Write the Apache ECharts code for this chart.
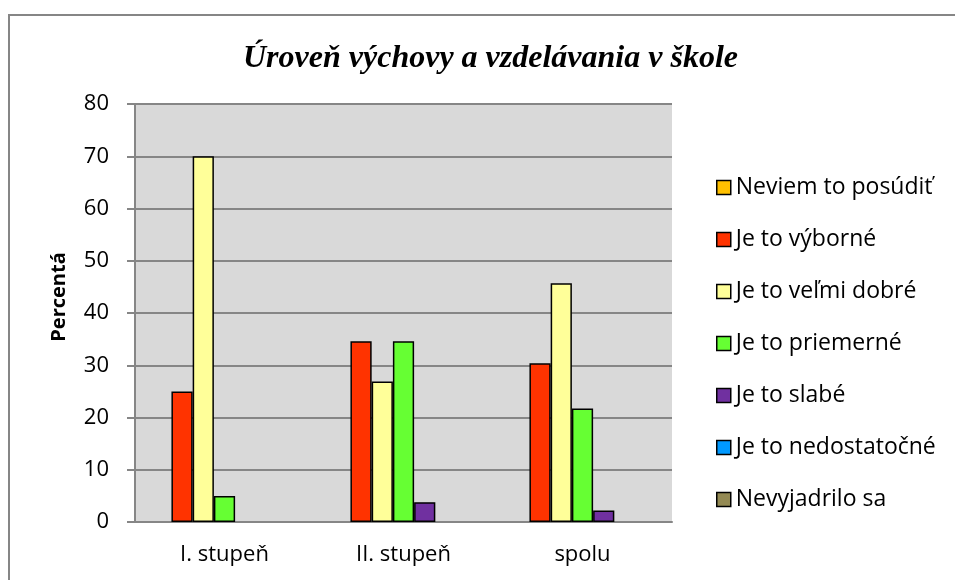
<!DOCTYPE html>
<html>
<head>
<meta charset="utf-8">
<script src="https://cdn.jsdelivr.net/npm/echarts@6/dist/echarts.min.js"></script>
<style>
html,body{margin:0;padding:0;background:#fff;}
#chart{width:955px;height:580px;}
</style>
</head>
<body>
<div id="chart"></div>
<script>
var categories = ['I. stupeň', 'II. stupeň', 'spolu'];
var seriesNames = ['Neviem to posúdiť', 'Je to výborné', 'Je to veľmi dobré', 'Je to priemerné', 'Je to slabé', 'Je to nedostatočné', 'Nevyjadrilo sa'];
var neviem = [0, 0, 0];
var vyborne = [25, 34.6, 30.4];
var velmiDobre = [70, 26.9, 45.7];
var priemerne = [5, 34.6, 21.7];
var slabe = [0, 3.8, 2.2];
var nedostatocne = [0, 0, 0];
var nevyjadrilo = [0, 0, 0];
var yTicks = [0, 10, 20, 30, 40, 50, 60, 70, 80];

var seriesData = [neviem, vyborne, velmiDobre, priemerne, slabe, nedostatocne, nevyjadrilo];
var colors = ['#FFC000', '#FF3300', '#FFFF99', '#66FF33', '#7030A0', '#0099FF', '#948A54'];
var sansFont = '"Open Sans", "DejaVu Sans", sans-serif';

var chart = echarts.init(document.getElementById('chart'), null, {renderer: 'canvas'});
var option = {
  animation: false,
  color: colors,
  title: {
    text: 'Úroveň výchovy a vzdelávania v škole',
    left: 238,
    top: 38,
    textStyle: {
      fontFamily: '"Liberation Serif", "DejaVu Serif", serif',
      fontStyle: 'italic',
      fontWeight: 'bold',
      fontSize: 32,
      color: '#000'
    }
  },
  graphic: [{
    type: 'rect',
    shape: {x: 9, y: 15, width: 960, height: 600},
    style: {fill: 'none', stroke: '#868686', lineWidth: 2},
    silent: true
  }],
  legend: {
    orient: 'vertical',
    left: 711,
    top: 171,
    itemWidth: 14,
    itemHeight: 14,
    itemGap: 29,
    icon: 'rect',
    data: seriesNames,
    textStyle: {
      fontFamily: sansFont,
      fontSize: 23,
      lineHeight: 23,
      color: '#000'
    },
    itemStyle: {borderColor: '#000', borderWidth: 1.5}
  },
  grid: {left: 135, right: 283, top: 104, bottom: 58, show: true, backgroundColor: '#D9D9D9', borderWidth: 0},
  xAxis: {
    type: 'category',
    data: categories,
    axisLine: {lineStyle: {color: '#868686', width: 2}},
    axisTick: {show: false},
    axisLabel: {fontFamily: sansFont, fontSize: 22, color: '#000', margin: 22}
  },
  yAxis: {
    type: 'value',
    min: 0,
    max: 80,
    interval: 10,
    name: 'Percentá',
    nameLocation: 'middle',
    nameGap: 66,
    nameRotate: 90,
    nameTextStyle: {fontFamily: sansFont, fontWeight: 'bold', fontSize: 20, color: '#000', padding: [0, 0, 0, 32]},
    axisLine: {show: true, lineStyle: {color: '#868686', width: 2}},
    axisTick: {show: true, length: 8, lineStyle: {color: '#868686', width: 2}},
    splitLine: {lineStyle: {color: '#868686', width: 2}},
    axisLabel: {
      fontFamily: sansFont, fontSize: 22, color: '#000', margin: 26,
      formatter: function (v) { return yTicks.indexOf(v) >= 0 ? String(v) : ''; }
    }
  },
  series: seriesNames.map(function (name, i) {
    return {
      name: name,
      type: 'bar',
      data: seriesData[i].map(function (v) {
        return v === 0 ? {value: v, itemStyle: {borderWidth: 0}} : v;
      }),
      barGap: '0%',
      barCategoryGap: '17%',
      itemStyle: {color: colors[i], borderColor: '#000', borderWidth: 1.5}
    };
  })
};
chart.setOption(option);
</script>
</body>
</html>
